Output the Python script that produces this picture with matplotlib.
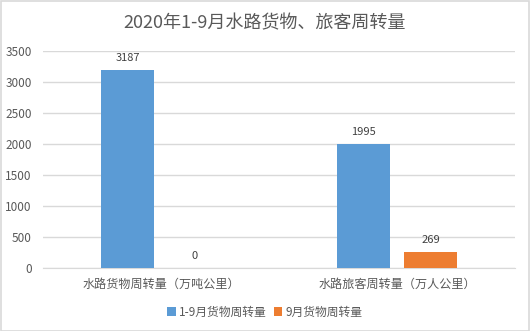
import numpy as np
import matplotlib.pyplot as plt
from matplotlib.patches import Rectangle

plt.rcParams['font.family'] = ['Noto Sans CJK SC', 'DejaVu Sans']

# 数据
categories = ['水路货物周转量（万吨公里）', '水路旅客周转量（万人公里）']
series_names = ['1-9月货物周转量', '9月货物周转量']
total_1_9 = [3187, 1995]
month_9 = [0, 269]
colors = ['#5B9BD5', '#ED7D31']
text_color = '#595959'
grid_color = '#D9D9D9'

fig = plt.figure(figsize=(5.3, 3.31), dpi=100)
fig.patches.append(Rectangle((0.001, 0.001), 0.997, 0.996, transform=fig.transFigure,
                             fill=False, edgecolor='#D9D9D9', linewidth=1.2))

ax = fig.add_axes([43 / 530, 1 - 268.3 / 331, 472 / 530, (268.3 - 51) / 331])

x = np.arange(len(categories))
width = 0.223
offset = 0.142
b1 = ax.bar(x - offset, total_1_9, width, color=colors[0], label=series_names[0], zorder=3)
b2 = ax.bar(x + offset, month_9, width, color=colors[1], label=series_names[1], zorder=3)

for bars in (b1, b2):
    ax.bar_label(bars, padding=5, fontsize=8, color='#404040')

ax.set_xlim(-0.5, 1.5)
ax.set_ylim(0, 3500)
ax.set_yticks(range(0, 3501, 500))
ax.grid(axis='y', color=grid_color, linewidth=1, zorder=0)
ax.set_xticks(x)
ax.set_xticklabels(categories, fontsize=8.7, color=text_color)
ax.tick_params(axis='y', labelsize=8.5, labelcolor=text_color, length=0, pad=8)
ax.tick_params(axis='x', length=0, pad=7)
for s in ['top', 'right', 'left']:
    ax.spines[s].set_visible(False)
ax.spines['bottom'].set_color(grid_color)

fig.text(0.5, 1 - 23 / 331, '2020年1-9月水路货物、旅客周转量', ha='center', va='center',
         fontsize=13, color=text_color)

fig.legend(loc='center', bbox_to_anchor=(0.5, 1 - 312 / 331), ncol=2, frameon=False,
           fontsize=8.5, labelcolor=text_color, handlelength=0.7, handleheight=0.7,
           handletextpad=0.3, columnspacing=0.6)

fig.savefig('out.png', dpi=100)
